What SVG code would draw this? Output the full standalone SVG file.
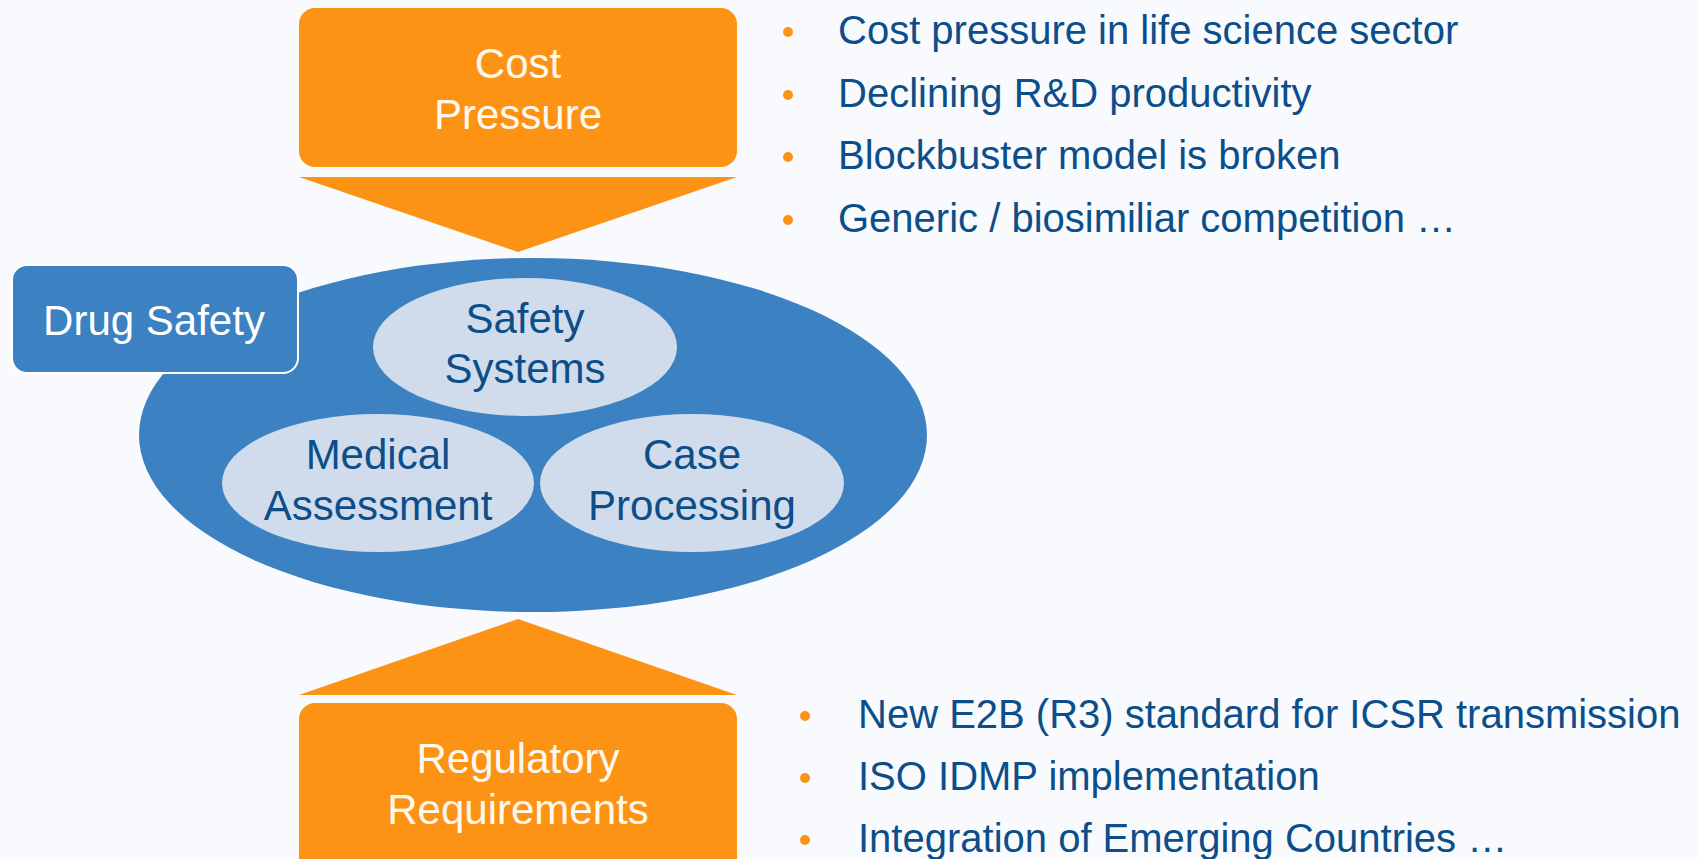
<svg xmlns="http://www.w3.org/2000/svg" width="1698" height="859" viewBox="0 0 1698 859">
  <style>
    .orange { fill: #FD9314; }
    .label { font-family: "Liberation Sans", Arial, sans-serif; font-size: 42px; text-anchor: middle; }
    .light { fill: #FFF8EE; }
    .inner { fill: #D0DCEC; }
    .inner-text { fill: #0C4E89; }
    .bullet { fill: #FD9314; }
    .item { font-family: "Liberation Sans", Arial, sans-serif; font-size: 40px; fill: #0C4E89; }
  </style>
  <rect width="1698" height="859" fill="#F8FAFD"/>

  <g id="connectors">
    <polygon class="orange" points="299,177 737,177 518,252"/>
    <polygon class="orange" points="299,695 737,695 518,619"/>
  </g>

  <g id="cost-pressure">
    <rect class="orange" x="299" y="8" width="438" height="159" rx="16"/>
    <text class="label light"><tspan x="518" y="78">Cost</tspan><tspan x="518" y="129">Pressure</tspan></text>
  </g>

  <g id="drug-safety-area">
    <ellipse cx="533" cy="435" rx="394" ry="177" fill="#3C81C2"/>
  </g>

  <g id="drug-safety">
    <rect x="12" y="265" width="286" height="108" rx="15" fill="#3C81C2" stroke="#FFFFFF" stroke-width="2"/>
    <text class="label" x="154" y="335" fill="#FFFFFF" font-size="41">Drug Safety</text>
  </g>

  <g id="safety-systems">
    <ellipse class="inner" cx="525" cy="347" rx="152" ry="69"/>
    <text class="label inner-text"><tspan x="525" y="333">Safety</tspan><tspan x="525" y="383">Systems</tspan></text>
  </g>

  <g id="medical-assessment">
    <ellipse class="inner" cx="378" cy="483" rx="156" ry="69"/>
    <text class="label inner-text"><tspan x="378" y="469">Medical</tspan><tspan x="378" y="520">Assessment</tspan></text>
  </g>

  <g id="case-processing">
    <ellipse class="inner" cx="692" cy="483" rx="152" ry="69"/>
    <text class="label inner-text"><tspan x="692" y="469">Case</tspan><tspan x="692" y="520">Processing</tspan></text>
  </g>

  <g id="regulatory-requirements">
    <rect class="orange" x="299" y="703" width="438" height="180" rx="16"/>
    <text class="label light"><tspan x="518" y="773">Regulatory</tspan><tspan x="518" y="824">Requirements</tspan></text>
  </g>

  <g id="cost-drivers">
    <circle class="bullet" cx="788" cy="32" r="5"/>
    <circle class="bullet" cx="788" cy="95" r="5"/>
    <circle class="bullet" cx="788" cy="157" r="5"/>
    <circle class="bullet" cx="788" cy="220" r="5"/>
    <text class="item" x="838" y="44">Cost pressure in life science sector</text>
    <text class="item" x="838" y="107">Declining R&amp;D productivity</text>
    <text class="item" x="838" y="169">Blockbuster model is broken</text>
    <text class="item" x="838" y="232">Generic / biosimiliar competition …</text>
  </g>

  <g id="regulatory-drivers">
    <circle class="bullet" cx="805" cy="716" r="5"/>
    <circle class="bullet" cx="805" cy="778" r="5"/>
    <circle class="bullet" cx="805" cy="840" r="5"/>
    <text class="item" x="858" y="728">New E2B (R3) standard for ICSR transmission</text>
    <text class="item" x="858" y="790">ISO IDMP implementation</text>
    <text class="item" x="858" y="852">Integration of Emerging Countries …</text>
  </g>
</svg>
